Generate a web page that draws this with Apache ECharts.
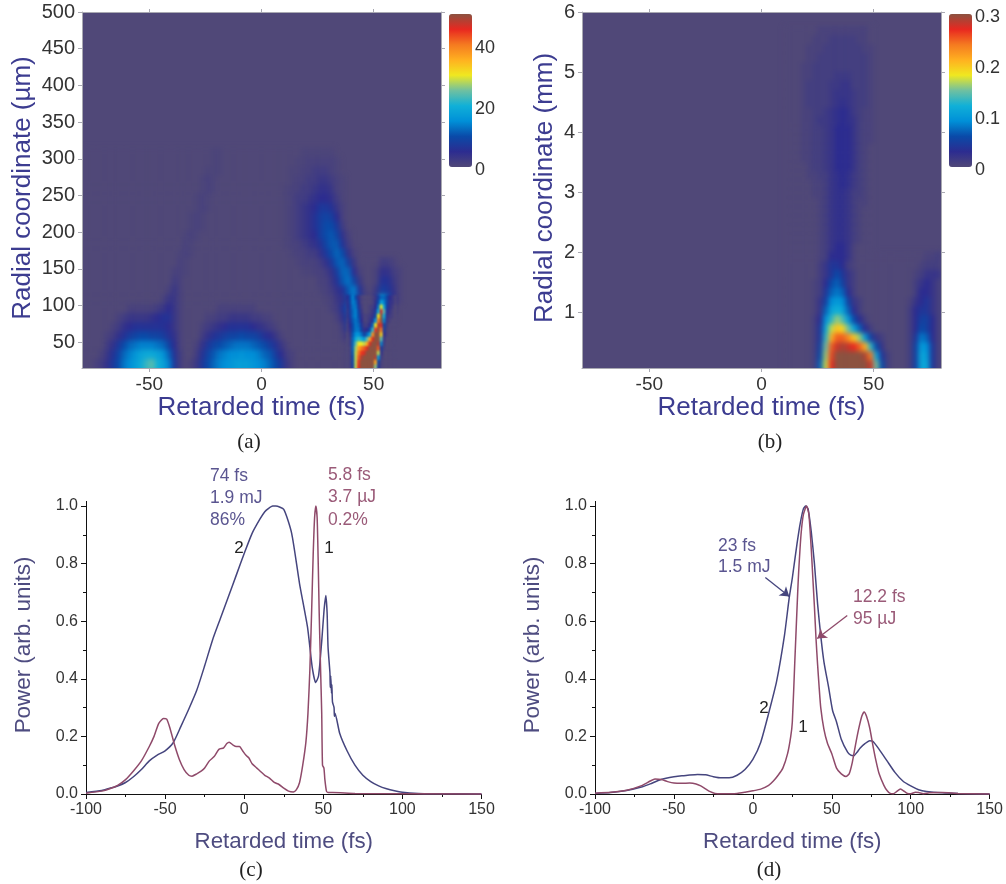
<!DOCTYPE html>
<html>
<head>
<meta charset="utf-8">
<title>Retarded time maps</title>
<script src="https://cdn.jsdelivr.net/npm/echarts@6/dist/echarts.min.js"></script>
<style>
  body { margin: 0; background: #fff; }
  #main { position: absolute; left: 0; top: 0; width: 1006px; height: 884px; z-index: 2; }
  .heatBox { position: absolute; top: 12px; width: 359px; height: 356px; overflow: hidden; background: #504878; z-index: 1; }
  .heat { position: absolute; left: 0; width: 359px; filter: blur(2.5px); }
  #boxA { left: 82px; }
  #boxB { left: 582px; }
  #heatA { top: -2px; height: 367px; }
  #heatB { top: -4.5px; height: 370px; }
  #heatTip { position: absolute; left: 263.6px; top: 282.6px; width: 50.5px; height: 82.6px; filter: blur(1px); }
</style>
</head>
<body>
<div class="heatBox" id="boxA"><div class="heat" id="heatA"></div><div id="heatTip"></div></div>
<div class="heatBox" id="boxB"><div class="heat" id="heatB"></div></div>
<div id="main"></div>
<script>
// columns are 2.5 fs wide, -80..80 fs. rows go from the bottom up, a: 12.5 um per row, b: 0.15 mm per row
const jet = ['#504878', '#2c2c90', '#0a4aa8', '#0090d8', '#10b0d8', '#70c0a0', '#f0e820', '#ffb020', '#f57a20', '#e82820', '#8c5240'];

const rowsA = [
  [0,0,1,2,4,7,10,13, 15,17,19,22,23,20,18,14, 7,2,0,1,3,7,10,12, 14,15,16,17,17,17,16,15, 14,12,10,7,3,1,0,0, 0,0,0,0,0,0,0,1, 18,50,50,50,10],
  [0,0,1,2,4,7,10,13, 15,17,19,22,24,20,18,14, 7,2,0,1,3,7,10,12, 14,15,16,17,17,17,16,15, 14,12,10,7,3,1,0,0, 0,0,0,0,0,0,0,1, 18,50,50,50,12],
  [0,0,0,1,3,6,9,12, 14,16,18,19,19,18,16,12, 6,2,0,0,2,6,9,11, 13,14,15,15,16,15,15,14, 12,11,8,5,2,1,0,0, 0,0,0,0,0,0,0,1, 20,50,50,50,34,2],
  [0,0,0,0,2,4,7,10, 12,13,14,14,14,13,12,9, 5,1,0,0,1,4,7,9, 10,11,12,13,13,13,12,11, 10,8,6,3,1,0,0,0, 0,0,0,0,0,0,0,1, 20,42,46,50,50,12],
  [0,0,0,0,1,2,4,6, 8,9,10,10,9,9,8,6, 4,1,0,0,0,2,4,6, 7,8,9,9,10,9,9,8, 6,5,3,1,0,0,0,0, 0,0,0,0,0,0,1,3, 16,24,16,46,50,20,2],
  [0,0,0,0,0,1,2,4, 5,6,6,6,6,6,6,5, 3,1,0,0,0,1,2,3, 4,5,6,6,6,6,5,4, 3,2,1,0,0,0,0,0, 0,0,0,0,0,0,2,7, 14,16,7,25,50,38,4],
  [0,0,0,0,0,0,1,2, 3,3,3,3,4,5,6,6, 3,1,0,0,0,0,1,1, 2,2,3,3,3,3,2,2, 1,1,0,0,0,0,0,0, 0,0,0,0,0,1,4,9, 14,12,4,8,42,46,7,1],
  [0,0,0,0,0,0,0,0, 1,1,1,1,1,2,3,5, 3,1,0,0,0,0,0,0, 1,1,1,1,1,1,1,0, 0,0,0,0,0,0,0,0, 0,0,0,0,1,2,6,11, 14,8,2,2,22,46,10,3],
  [0,0,0,0,0,0,0,0, 0,0,0,0,0,0,1,3, 3,1,0,0,0,0,0,0, 0,0,0,0,0,0,0,0, 0,0,0,0,0,0,0,0, 0,0,0,0.5,1,3,4,9, 14,8,2,1,6,20,12,5, 1],
  [0,0,0,0,0,0,0,0, 0,0,0,0,0,0,0,1, 3,1,0,0,0,0,0,0, 0,0,0,0,0,0,0,0, 0,0,0,0,0,0,0,0, 0,0,0.5,1,2,4,6,11, 14,6,1,0,3,8,7,4, 1],
  [0,0,0,0,0,0,0,0, 0,0,0,0,0,0,0,0, 2,1,0,0,0,0,0,0, 0,0,0,0,0,0,0,0, 0,0,0,0,0,0,0,0, 0,0,1,1,3,6,11,13, 9,3,0,0,1,6,6,3, 1],
  [0,0,0,0,0,0,0,0, 0,0,0,0,0,0,0,0, 1,1,0.5,0,0,0,0,0, 0,0,0,0,0,0,0,0, 0,0,0,0,0,0,0,0.5, 0.5,1,1,2,4,8,12,12, 5,1,0,0,1,4,4,2, 1],
  [0,0,0,0,0,0,0,0, 0,0,0,0,0,0,0,0, 0,1,0.5,0,0,0,0,0, 0,0,0,0,0,0,0,0, 0,0,0,0,0,0,0.5,1, 1,1,2,4,7,11,12,8, 3,0,0,0,0,2,2,1],
  [0,0,0,0,0,0,0,0, 0,0,0,0,0,0,0,0, 0,0.5,1,0.5,0,0,0,0, 0,0,0,0,0,0,0,0, 0,0,0,0,0,0.5,1,1, 2,2,4,7,10,12,10,4, 1],
  [0,0,0,0,0,0,0,0, 0,0,0,0,0,0,0,0, 0,0,1,0.5,0,0,0,0, 0,0,0,0,0,0,0,0, 0,0,0,0,0.5,1,1,2, 3,4,6,9,11,11,6,2],
  [0,0,0,0,0,0,0,0, 0,0,0,0,0,0,0,0, 0,0,0.5,1,0.5,0,0,0, 0,0,0,0,0,0,0,0, 0,0,0,0,0.5,1,2,3, 4,5,8,10,11,9,4,1],
  [0,0,0,0,0,0,0,0, 0,0,0,0,0,0,0,0, 0,0,0,0.5,1,0.5,0,0, 0,0,0,0,0,0,0,0, 0,0,0,0,0.5,1,2,3, 4,6,8,10,10,7,2],
  [0,0,0,0,0,0,0,0, 0,0,0,0,0,0,0,0, 0,0,0,0.5,1,0.5,0,0, 0,0,0,0,0,0,0,0, 0,0,0,0,0.5,1,2,3, 4,6,8,9,8,5,1],
  [0,0,0,0,0,0,0,0, 0,0,0,0,0,0,0,0, 0,0,0,0,0.5,1,0.5,0, 0,0,0,0,0,0,0,0, 0,0,0,0,0.5,1,2,3, 4,5,7,7,6,3,1],
  [0,0,0,0,0,0,0,0, 0,0,0,0,0,0,0,0, 0,0,0,0,0.5,1,0.5,0, 0,0,0,0,0,0,0,0, 0,0,0,0,0.5,1,2,2, 3,4,5,5,4,2,0.5],
  [0,0,0,0,0,0,0,0, 0,0,0,0,0,0,0,0, 0,0,0,0,0,0.5,1,0.5, 0,0,0,0,0,0,0,0, 0,0,0,0,0.5,1,1,2, 2,3,4,4,3,1,0.5],
  [0,0,0,0,0,0,0,0, 0,0,0,0,0,0,0,0, 0,0,0,0,0,0.5,1,0.5, 0,0,0,0,0,0,0,0, 0,0,0,0,0,0.5,1,1, 2,2,3,3,2,1,0.5],
  [0,0,0,0,0,0,0,0, 0,0,0,0,0,0,0,0, 0,0,0,0,0,0,0.5,0.5, 0.5,0,0,0,0,0,0,0, 0,0,0,0,0,0.5,0.5,1, 1,2,2,2,1,0.5],
  [0,0,0,0,0,0,0,0, 0,0,0,0,0,0,0,0, 0,0,0,0,0,0,0,0.5, 0.5,0,0,0,0,0,0,0, 0,0,0,0,0,0,0.5,0.5, 1,1,1,1,1,0.5],
  [0,0,0,0,0,0,0,0, 0,0,0,0,0,0,0,0, 0,0,0,0,0,0,0,0.5, 0.5,0,0,0,0,0,0,0, 0,0,0,0,0,0,0,0.5, 0.5,0.5,0.5,0.5,0.5]
];

// the narrow hot wedge of a, read finer: 1.25 fs by 6.25 um, 37.5..60 fs, from 2.5 um up
const rowsATip = [
  [0,1,8,28,45,50,50,50,50,50,26,6,1,0,0,0,0,0],
  [0,1,8,28,45,50,50,50,50,50,26,6,1,0,0,0,0,0],
  [0,1,8,28,45,50,50,50,50,50,26,6,1,0,0,0,0,0],
  [0,1,9,28,44,50,50,50,50,50,36,9,1,0,0,0,0,0],
  [0,1,10,28,42,48,50,50,50,50,48,16,2,0,0,0,0,0],
  [0,1,11,28,40,44,46,50,50,50,50,28,4,0,0,0,0,0],
  [0,1,12,27,36,40,42,46,50,50,50,42,8,1,0,0,0,0],
  [0,2,12,24,30,30,28,36,46,50,50,48,14,2,0,0,0,0],
  [0,2,12,19,22,20,16,24,36,46,50,50,24,3,0,0,0,0],
  [0,3,11,15,16,13,8,12,18,38,50,50,32,5,1,0,0,0],
  [1,4,10,13,13,9,4,5,10,22,44,50,40,8,1,0,0,0],
  [1,5,10,13,12,7,2,2,5,12,30,48,46,10,2,0,0,0],
  [2,6,11,13,11,5,1,1,3,7,17,40,50,14,3,1,0,0],
  [3,7,12,14,10,4,1,1,2,4,10,30,50,20,4,2,1,0],
  [3,8,12,14,9,3,0,0,1,3,7,20,46,24,6,3,1,0],
  [4,8,13,13,7,2,0,0,1,2,5,13,30,18,8,4,2,0],
  [4,9,14,12,6,1,0,0,0,1,4,10,18,14,9,4,3,1],
  [5,10,14,10,4,1,0,0,0,1,3,8,12,12,9,5,3,1]
];

// b only has signal from about 10 fs on, so its rows start at column 36. values in units of 0.01
const firstColB = 36;
const rowsB = [
  [0,0,0,0,0,1,7,17, 27,30,30,30,30,30,30,28, 15,6,1,0,0,0,1,5, 11,11,4,1],
  [0,0,0,0,0,1,7,17, 27,30,30,30,30,30,30,28, 15,6,1,0,0,0,1,5, 11,11,4,1],
  [0,0,0,0,0,1,6,16, 26,30,30,30,30,30,29,24, 11,4,1,0,0,0,1,5, 11,10,4,1],
  [0,0,0,0,0,1,5,15, 25,28,29,28,27,25,21,13, 6,2,0,0,0,0,1,5, 10,9,4,1],
  [0,0,0,0,0,1,4,13, 21,25,25,23,20,16,10,5, 2,1,0,0,0,0,1,4, 8,7,3,1],
  [0,0,0,0,0,1,4,11, 17,20,19,15,11,7,3,1, 0,0,0,0,0,0,1,3, 6,5,3,1],
  [0,0,0,0,0,1,3,9, 13,16,14,10,6,3,1,0, 0,0,0,0,0,0,1,3, 5,5,3,1],
  [0,0,0,0,0,0.5,2,7, 11,12,11,7,3,1,0,0, 0,0,0,0,0,0,1,3, 4,4,2,1],
  [0,0,0,0,0,0.5,2,5, 9,10,9,5,2,1,0,0, 0,0,0,0,0,0,0.5,2, 3,4,2,1],
  [0,0,0,0,0,0.5,1,4, 7,8,7,3,1,0,0,0, 0,0,0,0,0,0,0,1, 3,3,2,1],
  [0,0,0,0,0,0.5,1,3, 6,7,5,2,1,0,0,0, 0,0,0,0,0,0,0,1, 2,3,2,1],
  [0,0,0,0,0,0,1,2, 4,6,4,2,1,0,0,0, 0,0,0,0,0,0,0,0.5, 1,2,2,2],
  [0,0,0,0,0,0,1,2, 4,4,3,1,0.5,0,0,0, 0,0,0,0,0,0,0,0, 0.5,1,1,1],
  [0,0,0,0,0,0,0.5,1, 3,3,3,2,0.5,0,0,0, 0,0,0,0,0,0,0,0, 0,0.5,0.5,1],
  [0,0,0,0,0,0,0.5,1, 2,3,3,2,0.5,0,0,0],
  [0,0,0,0,0,0,0.5,1, 2,2.5,2.5,2,1,0.5,0,0],
  [0,0,0,0,0,0,0.5,1, 2,2.5,2.5,2,1,0.5,0,0],
  [0,0,0,0,0,0,0.5,1, 2,2.5,2.5,2,1,0.5,0,0],
  [0,0,0,0,0,0,0.5,1, 2,2.5,2.5,2,1,0.5,0,0],
  [0,0,0,0,0,0,0.5,1, 2,2.5,2.5,2,1,0.5,0.5,0],
  [0,0,0,0,0,0.5,0.5,1, 2,2.5,2.5,2,1,1,0.5,0],
  [0,0,0,0,0,0.5,0.5,1, 2,2.5,3,2.5,1.5,1,0.5,0],
  [0,0,0,0,0.5,0.5,1,1, 2,2.5,3,2.5,1.5,1,0.5,0],
  [0,0,0,0,0.5,1,1,1.5, 2,3,3,3,2,1,0.5,0],
  [0,0,0,0.5,0.5,1,1,1.5, 2,3,3,3,2,1,0.5,0],
  [0,0,0,0.5,0.5,1,1,1.5, 2,3,3,3,2,1,0.5,0],
  [0,0,0,0.5,0.5,1,1,1.5, 2,3,3,3,2,1,0.5,0.5],
  [0,0,0,0.5,0.5,1,1,1.5, 2,3,3,3,2,1,0.5,0.5],
  [0,0,0,0.5,0.5,1,1.5,1.5, 2,2.5,3,2.5,2,1,0.5,0.5],
  [0,0,0,0.5,0.5,1,1,1.5, 2,2.5,3,2.5,1.5,1,0.5,0.5],
  [0,0,0,0.5,1,1,1,1, 1.5,2,2.5,2,1.5,1,1,0.5],
  [0,0,0,0.5,1,1,1,1, 1.5,2,2,2,1.5,1,1,0.5],
  [0,0,0,0.5,1,1,1,1, 1.5,1.5,2,2,1,1,1,0.5],
  [0,0,0,0.5,0.5,1,1,1, 1,1.5,1.5,1.5,1,1,1,0.5],
  [0,0,0,0.5,0.5,1,1,1, 1,1,1,1,1,1,1,0.5],
  [0,0,0,0,0.5,0.5,1,1, 1,1,1,1,1,1,1,0.5],
  [0,0,0,0,0.5,0.5,0.5,1, 1,1,1,1,1,1,0.5,0.5],
  [0,0,0,0,0,0.5,0.5,0.5, 1,1,1,1,1,0.5,0.5,0],
  [0,0,0,0,0,0,0.5,0.5, 0.5,0.5,0.5,0.5,0.5,0.5,0.5,0]
];

const timeC1 = [-100,-90,-85,-80,-75,-70,-65,-60,-57,-54,-51,-49,-47,-44,-41,-38,-35,-33,-30,-27,-25,-22,-19,-16,-13,-11,-9.5,-7,-5,-3,-1,1,3,5,8,10,13,16,19,22,25,28,31,33,35,37,39,40.3,41.5,42.6,43.6,44.5,45.3,46.1,46.8,47.4,48.2,49,49.5,50.4,51,52,53,56,70,150];
const powerC1 = [.003,.01,.018,.03,.05,.08,.115,.165,.2,.245,.262,.26,.23,.17,.12,.085,.065,.062,.07,.08,.09,.115,.13,.155,.16,.175,.18,.17,.165,.165,.15,.135,.125,.105,.09,.08,.065,.055,.04,.033,.02,.01,.007,.015,.04,.1,.18,.28,.43,.63,.83,.96,1,.96,.8,.63,.45,.28,.1,.09,.05,.01,.005,.005,.002,0];
const timeC2 = [-100,-90,-85,-80,-75,-70,-65,-60,-55,-50,-45,-40,-35,-30,-25,-20,-15,-10,-5,0,5,10,13,15,18,20,25,30,35,40,43,45.2,47,49,50.5,51.6,52.4,53,54.2,54.4,54.7,55.2,55.4,55.8,56.8,57,57.4,60.4,65,70,75,80,85,90,95,100,110,120,150];
const powerC2 = [.005,.012,.02,.028,.04,.06,.085,.115,.135,.15,.177,.235,.295,.36,.445,.535,.61,.685,.76,.835,.905,.955,.98,.99,1,1,.988,.905,.73,.58,.44,.387,.41,.53,.64,.689,.63,.51,.42,.37,.41,.35,.38,.32,.3,.27,.28,.21,.15,.1,.065,.043,.028,.018,.011,.006,.002,.001,0];
const timeD1 = [-100,-90,-80,-70,-65,-62,-58,-54,-50,-45,-40,-36,-33,-30,-27,-24,-20,-10,-5,0,5,10,13,16,19,22,24,25,26.5,28.4,29,30.5,32,34,35.5,37,38,39,40,41,42,43,45,47.3,50,53,56,59,61,63,65,67,69,70.5,72,74,76,78,80,83,85,87,89,91,93.5,96,98,100,103,105,108,112,120,130,150];
const powerD1 = [.003,.006,.013,.03,.045,.052,.05,.043,.038,.037,.038,.035,.028,.018,.008,.002,.001,.002,.006,.011,.017,.03,.045,.065,.09,.14,.2,.25,.45,.7,.77,.9,.97,1,.97,.85,.75,.65,.54,.45,.37,.3,.225,.175,.14,.09,.07,.061,.07,.11,.17,.225,.27,.285,.27,.23,.17,.115,.07,.03,.012,.002,.001,.008,.017,.009,.002,.001,.006,.005,.001,.004,.005,.002,0];
const timeD2 = [-100,-90,-80,-70,-65,-60,-55,-50,-45,-40,-35,-30,-25,-20,-15,-10,-5,0,5,10,15,20,23,25,28,30,32,33.5,35,37,39,41,43,45,48,50.5,53,56,60,62,64,66,68,71,74,76,80,85,90,95,100,105,110,120,130,150];
const powerD2 = [.002,.005,.012,.025,.035,.047,.055,.06,.063,.066,.068,.067,.06,.056,.056,.065,.085,.12,.18,.28,.39,.55,.68,.75,.87,.94,.99,1,.99,.91,.8,.66,.55,.46,.37,.29,.25,.19,.145,.135,.133,.145,.16,.175,.185,.183,.155,.115,.075,.045,.028,.015,.009,.004,.002,0];

const blue = '#45457e';
const red = '#8f4a6a';
const titleBlue = '#3c3c90';
const paleBlue = '#4e4c80';
const noteBlue = '#5a5590';
const noteRed = '#9a5a78';

const notes = [
  ['(a)', 249, 442, 21, '#222', 'middle', 'serif'],
  ['(b)', 770, 442, 21, '#222', 'middle', 'serif'],
  ['(c)', 251, 870, 21, '#222', 'middle', 'serif'],
  ['(d)', 769, 870, 21, '#222', 'middle', 'serif'],
  ['74 fs', 210, 476, 17.5, noteBlue, 'left'],
  ['1.9 mJ', 210, 498, 17.5, noteBlue, 'left'],
  ['86%', 210, 520, 17.5, noteBlue, 'left'],
  ['5.8 fs', 328, 475, 17.5, noteRed, 'left'],
  ['3.7 µJ', 328, 497, 17.5, noteRed, 'left'],
  ['0.2%', 328, 520, 17.5, noteRed, 'left'],
  ['2', 239, 548, 17, '#222', 'middle'],
  ['1', 329, 548, 17, '#222', 'middle'],
  ['23 fs', 718, 546, 17.5, noteBlue, 'left'],
  ['1.5 mJ', 718, 567, 17.5, noteBlue, 'left'],
  ['12.2 fs', 853, 597, 17.5, noteRed, 'left'],
  ['95 µJ', 853, 619, 17.5, noteRed, 'left'],
  ['2', 764, 708, 17, '#222', 'middle'],
  ['1', 803, 727, 17, '#222', 'middle']
];

function drawHeat(id, rows, firstCol, colCount, rowCount, maxValue, scale) {
  const cols = Array.from({length: colCount}, (_, i) => i);
  // rows past the end of the list stay at the base colour of the box
  const rowNames = Array.from({length: rowCount}, (_, i) => i);
  const cells = [];
  rows.forEach((row, y) => {
    row.forEach((v, i) => cells.push([i + firstCol, y, v * scale]));
  });
  const chart = echarts.init(document.getElementById(id));
  chart.setOption({
    animation: false,
    grid: {left: 0, right: 0, top: 0, bottom: 0},
    xAxis: {type: 'category', data: cols, show: false},
    yAxis: {type: 'category', data: rowNames, show: false},
    visualMap: {show: false, min: 0, max: maxValue, inRange: {color: jet}},
    series: [{type: 'heatmap', data: cells}]
  });
}
drawHeat('heatA', rowsA, 0, 64, 40, 50, 1);
drawHeat('heatTip', rowsATip, 0, 18, 18, 50, 1);
drawHeat('heatB', rowsB, firstColB, 64, 41, 0.3, 0.01);

function labelStyle(size) {
  return {fontFamily: 'Liberation Sans', fontSize: size, color: '#333'};
}
function nameStyle(size, color, shift) {
  return {fontFamily: 'Liberation Sans', fontSize: size, color: color, padding: shift ? [0, 0, 0, shift] : 0};
}

const frame = {onZero: false, lineStyle: {color: '#a9a9b2', width: 1}};
const heatTime = [-50, 0, 50];

function mapAxes(gridIndex, yMin, yMax, yTicks, yName, yGap) {
  const xs = [
    {
      type: 'value', gridIndex: gridIndex, min: -80, max: 80, position: 'bottom',
      name: 'Retarded time (fs)', nameLocation: 'middle', nameGap: 27, nameTextStyle: nameStyle(26, titleBlue),
      axisLine: frame, splitLine: {show: false},
      axisTick: {length: 4, customValues: heatTime, lineStyle: frame.lineStyle},
      axisLabel: Object.assign({customValues: heatTime, margin: 7}, labelStyle(19))
    },
    {
      type: 'value', gridIndex: gridIndex, min: -80, max: 80, position: 'top',
      axisLine: frame, splitLine: {show: false},
      axisTick: {length: 3, customValues: heatTime, lineStyle: frame.lineStyle},
      axisLabel: {show: false}
    }
  ];
  const ys = [
    {
      type: 'value', gridIndex: gridIndex, min: yMin, max: yMax, position: 'left',
      name: yName, nameLocation: 'middle', nameGap: yGap, nameTextStyle: nameStyle(26, titleBlue, 4),
      axisLine: frame, splitLine: {show: false},
      axisTick: {length: 4, customValues: yTicks, lineStyle: frame.lineStyle},
      axisLabel: Object.assign({customValues: yTicks, margin: 7}, labelStyle(20))
    },
    {
      type: 'value', gridIndex: gridIndex, min: yMin, max: yMax, position: 'right',
      axisLine: frame, splitLine: {show: false},
      axisTick: {length: 4, customValues: yTicks, lineStyle: frame.lineStyle},
      axisLabel: {show: false}
    }
  ];
  return {xs, ys};
}

function barAxes(gridIndex, max, ticks) {
  return {
    xs: [{type: 'value', gridIndex: gridIndex, min: 0, max: 1, show: false}],
    ys: [{
      type: 'value', gridIndex: gridIndex, min: 0, max: max, position: 'right',
      axisLine: {show: false, onZero: false}, axisTick: {show: false}, splitLine: {show: false},
      axisLabel: Object.assign({customValues: ticks, margin: 3}, labelStyle(18))
    }]
  };
}

function powerAxes(gridIndex) {
  const black = {onZero: false, lineStyle: {color: '#111', width: 1}};
  return {
    xs: [{
      type: 'value', gridIndex: gridIndex, min: -100, max: 150, interval: 50,
      name: 'Retarded time (fs)', nameLocation: 'middle', nameGap: 37, nameTextStyle: nameStyle(22.3, paleBlue),
      axisLine: black, splitLine: {show: false},
      axisTick: {length: 5, lineStyle: black.lineStyle},
      minorTick: {show: true, splitNumber: 2, length: 3, lineStyle: black.lineStyle},
      axisLabel: Object.assign({margin: 8}, labelStyle(16))
    }],
    ys: [{
      type: 'value', gridIndex: gridIndex, min: 0, max: 1, interval: 0.2,
      name: 'Power (arb. units)', nameLocation: 'middle', nameGap: 51, nameTextStyle: nameStyle(22.4, paleBlue, 10),
      axisLine: black, splitLine: {show: false},
      axisTick: {length: 5, lineStyle: black.lineStyle},
      minorTick: {show: true, splitNumber: 2, length: 3, lineStyle: black.lineStyle},
      axisLabel: Object.assign({margin: 8, formatter: v => v.toFixed(1)}, labelStyle(16))
    }]
  };
}

const axisSets = [
  mapAxes(0, 15, 500, [50, 100, 150, 200, 250, 300, 350, 400, 450, 500], 'Radial coordinate (µm)', 46),
  mapAxes(1, 0.075, 6, [1, 2, 3, 4, 5, 6], 'Radial coordinate (mm)', 24),
  powerAxes(2),
  powerAxes(3),
  barAxes(4, 50, [0, 20, 40]),
  barAxes(5, 0.3, [0, 0.1, 0.2, 0.3])
];
const xAxes = [];
const yAxes = [];
const firstX = [];
const firstY = [];
axisSets.forEach(set => {
  firstX.push(xAxes.length);
  firstY.push(yAxes.length);
  xAxes.push(...set.xs);
  yAxes.push(...set.ys);
});

function powerLine(gridIndex, times, values, color, arrow) {
  const s = {
    type: 'line',
    xAxisIndex: firstX[gridIndex],
    yAxisIndex: firstY[gridIndex],
    data: times.map((t, i) => [t, values[i]]),
    showSymbol: false,
    smooth: 0.2,
    clip: false,
    lineStyle: {color: color, width: 1.5}
  };
  if (arrow) {
    s.markLine = {
      silent: true, symbol: ['none', 'arrow'], symbolSize: 9,
      label: {show: false}, lineStyle: {color: color, width: 1.3, type: 'solid'},
      data: [[{coord: arrow[0]}, {coord: arrow[1]}]]
    };
  }
  return s;
}

const graphics = notes.map(n => ({
  type: 'text', x: n[1], y: n[2],
  style: {
    text: n[0], fill: n[4], textAlign: n[5] === 'middle' ? 'center' : 'left', textVerticalAlign: 'middle',
    font: n[3] + 'px "' + (n[6] === 'serif' ? 'Liberation Serif' : 'Liberation Sans') + '"'
  }
}));
// the y axis of c and d runs on a little past 1.0
[86.5, 595.5].forEach(x => graphics.push({
  type: 'line', shape: {x1: x, y1: 501, x2: x, y2: 506}, style: {stroke: '#111', lineWidth: 1}
}));

const chart = echarts.init(document.getElementById('main'));
chart.setOption({
  animation: false,
  grid: [
    {left: 82, top: 12, width: 359, height: 356},
    {left: 582, top: 12, width: 359, height: 356},
    {left: 86, top: 506, width: 395.5, height: 288},
    {left: 595, top: 506, width: 395.5, height: 288},
    {left: 449, top: 17, width: 23, height: 153},
    {left: 949, top: 17, width: 23, height: 153}
  ],
  xAxis: xAxes,
  yAxis: yAxes,
  visualMap: [
    {type: 'continuous', seriesIndex: [], min: 0, max: 50, left: 449, top: 14, padding: 0, itemWidth: 23, itemHeight: 153, showLabel: false, calculable: false, realtime: false, inRange: {color: jet}},
    {type: 'continuous', seriesIndex: [], min: 0, max: 0.3, left: 949, top: 14, padding: 0, itemWidth: 23, itemHeight: 153, showLabel: false, calculable: false, realtime: false, inRange: {color: jet}}
  ],
  series: [
    powerLine(2, timeC2, powerC2, blue),
    powerLine(2, timeC1, powerC1, red),
    powerLine(3, timeD2, powerD2, blue, [[7.9, 0.752], [23.1, 0.686]]),
    powerLine(3, timeD1, powerD1, red, [[59.8, 0.62], [40.8, 0.54]])
  ],
  graphic: graphics
});
</script>
</body>
</html>
